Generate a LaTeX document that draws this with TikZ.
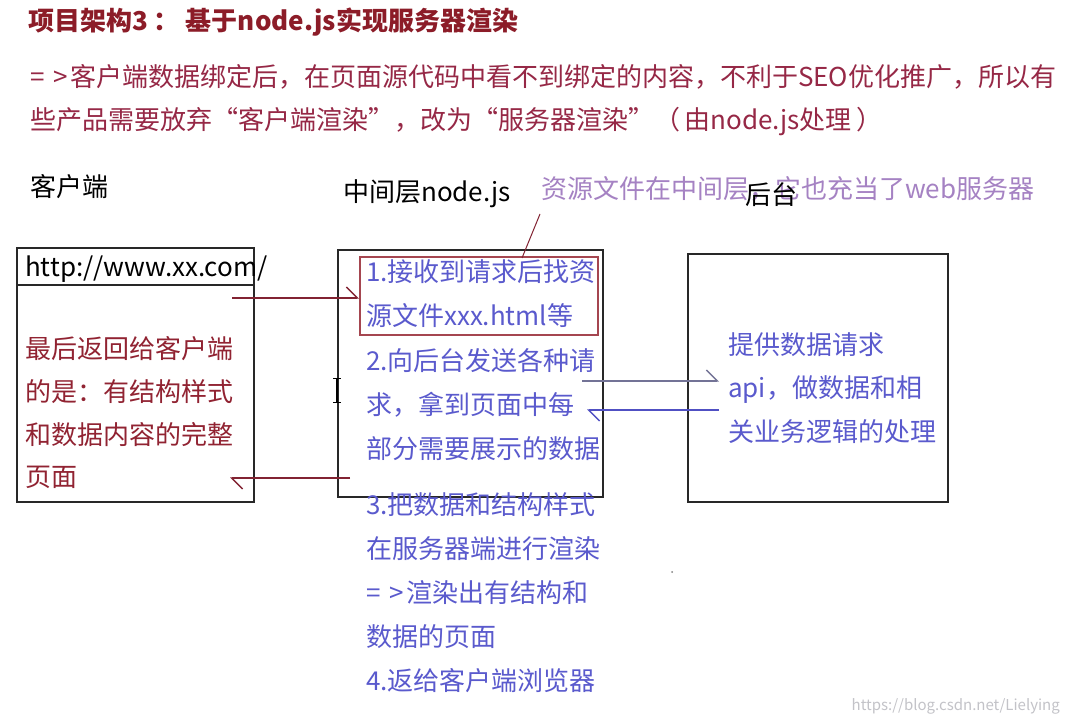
\documentclass[tikz,border=0pt]{standalone}
\usepackage{fontspec}
\setmainfont{Noto Sans CJK SC}
\usetikzlibrary{arrows.meta}
\definecolor{titlered}{RGB}{140,28,40}
\definecolor{introred}{RGB}{150,40,70}
\definecolor{clientred}{RGB}{145,35,50}
\definecolor{bluetxt}{RGB}{90,90,205}
\definecolor{purpletxt}{RGB}{165,130,195}
\definecolor{boxline}{RGB}{40,40,40}
\definecolor{redbox}{RGB}{165,70,80}
\definecolor{arrowred}{RGB}{130,35,50}
\definecolor{arrowgray}{RGB}{115,115,150}
\definecolor{arrowblue}{RGB}{80,80,195}
\definecolor{wm}{RGB}{195,195,200}
\tikzset{
  txt/.style={anchor=west, inner sep=0pt, text height=0.88em, text depth=0.12em, yshift=-5pt,
    font=\fontsize{26}{26}\selectfont},
  panel/.style={draw=boxline, line width=1.6pt},
  conn/.style={line width=1.4pt, -{Straight Barb[harpoon, length=11pt, width=22pt, line width=1.4pt]}},
}
\begin{document}
\begin{tikzpicture}[x=1pt,y=-1pt]
\fill[white] (0,0) rectangle (1070,722);
\useasboundingbox (0,0) rectangle (1070,722);

% heading
\node[txt, text=titlered, font=\fontsize{26}{26}\selectfont\bfseries] (title) at (28,22) {项目架构3 ： 基于node.js实现服务器渲染};
\node[txt, text=introred] (intro1) at (30,78) {=\hspace{9pt}>\hspace{2pt}客户端数据绑定后，在页面源代码中看不到绑定的内容，不利于SEO优化推广，所以有};
\node[txt, text=introred] (intro2) at (30,121) {些产品需要放弃“客户端渲染”，改为“服务器渲染”（\,由node.js处理\,）};

% column labels
\node[txt] (lclient) at (30,188) {客户端};
\node[txt] (lmid) at (343,193) {中间层node.js};
\node[txt, text=purpletxt] (note) at (541,190) {资源文件在中间层，它也充当了web服务器};
\node[txt] (lback) at (745,196) {后台};

% boxes
\draw[panel] (17,248) rectangle (254,502);
\node[inner sep=0pt] (client) at (135.5,375) {};
\draw[panel] (17,285) -- (254,285);
\draw[panel] (338,250) rectangle (603,497);
\draw[draw=redbox, line width=1.6pt] (360,257) rectangle (598,335);
\node[inner sep=0pt, minimum width=238pt, minimum height=78pt] (rbox) at (479,296) {};
\draw[panel] (688,254) rectangle (948,502);

% client texts
\node[txt] (url) at (25,268) {http://www.xx.com/};
\node[txt, text=clientred] (c1) at (25,350) {最后返回给客户端};
\node[txt, text=clientred] (c2) at (25,393) {的是：有结构样式};
\node[txt, text=clientred] (c3) at (25,436) {和数据内容的完整};
\node[txt, text=clientred] (c4) at (25,478) {页面};

% middle texts
\node[txt, text=bluetxt] (m1) at (366,273) {1.接收到请求后找资};
\node[txt, text=bluetxt] (m2) at (366,317) {源文件xxx.html等};
\node[txt, text=bluetxt] (m3) at (366,362) {2.向后台发送各种请};
\node[txt, text=bluetxt] (m4) at (366,406) {求，拿到页面中每};
\node[txt, text=bluetxt] (m5) at (366,450) {部分需要展示的数据};
\node[txt, text=bluetxt] (m6) at (366,506) {3.把数据和结构样式};
\node[txt, text=bluetxt] (m7) at (366,550) {在服务器端进行渲染};
\node[txt, text=bluetxt] (m8) at (366,594) {=\hspace{9pt}>\hspace{2pt}渲染出有结构和};
\node[txt, text=bluetxt] (m9) at (366,638) {数据的页面};
\node[txt, text=bluetxt] (m10) at (366,682) {4.返给客户端浏览器};

% backend texts
\node[txt, text=bluetxt] (b1) at (728,346) {提供数据请求};
\node[txt, text=bluetxt] (b2) at (728,389) {api，做数据和相};
\node[txt, text=bluetxt] (b3) at (728,433) {关业务逻辑的处理};

% connectors
\coordinate (a1s) at (232,298);
\coordinate (a1e) at (359,298);
\draw[conn, draw=arrowred] (a1s) -- (a1e);
\coordinate (a2s) at (350,478);
\coordinate (a2e) at (230,478);
\draw[conn, draw=arrowred] (a2s) -- (a2e);
\coordinate (a3s) at (582,381);
\coordinate (a3e) at (719,381);
\draw[conn, draw=arrowgray] (a3s) -- (a3e);
\coordinate (a4s) at (719,410);
\coordinate (a4e) at (587,410);
\draw[conn, draw=arrowblue] (a4s) -- (a4e);
\coordinate (p1) at (540,214);
\coordinate (p2) at (522,258);
\draw[arrowred, line width=1pt] (p1) -- (p2);

% text cursor and dot
\draw[black, line width=1.2pt] (337,378) -- (337,402);
\draw[black, line width=1pt] (333,378) -- (341,378) (333,402) -- (341,402);
\fill[gray] (672,572) circle (1pt);

% watermark
\node[anchor=east, inner sep=0pt, text=wm, font=\fontsize{15}{15}\selectfont] (wmark) at (1060,706) {https://blog.csdn.net/Lielying};
\end{tikzpicture}
\end{document}
